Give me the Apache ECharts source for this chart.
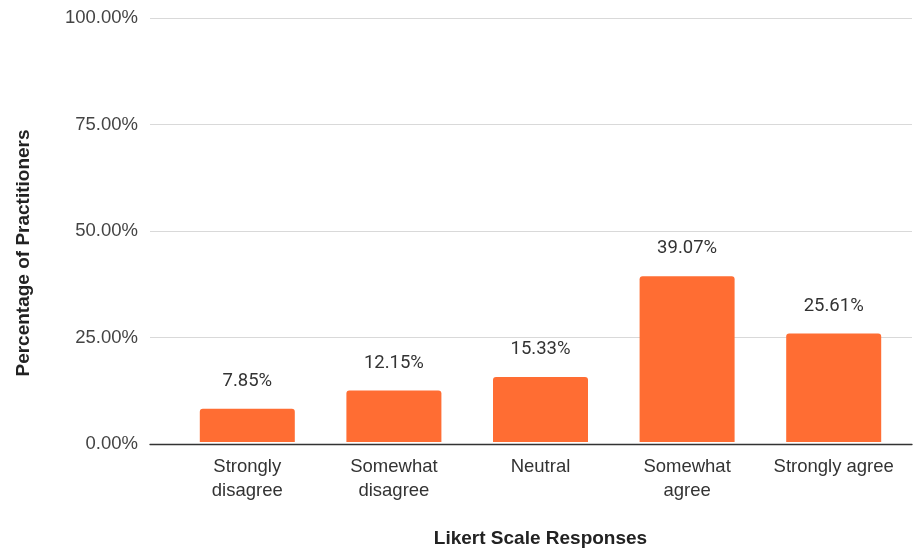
<!DOCTYPE html>
<html>
<head>
<meta charset="utf-8">
<script src="https://cdn.jsdelivr.net/npm/echarts@6/dist/echarts.min.js"></script>
<style>
  html, body { margin: 0; padding: 0; background: #fff; }
  #chart { width: 915px; height: 553px; }
</style>
</head>
<body>
<div id="chart"></div>
<script>
// Likert survey responses: share of practitioners per answer
const categories = ['Strongly\ndisagree', 'Somewhat\ndisagree', 'Neutral', 'Somewhat\nagree', 'Strongly agree'];
const percentages = [7.85, 12.15, 15.33, 39.07, 25.61];
const yTicks = [0, 25, 50, 75, 100];

const chart = echarts.init(document.getElementById('chart'));

const axisFont = 'Liberation Sans, Arial, sans-serif';

chart.setOption({
  animation: false,
  backgroundColor: '#ffffff',
  grid: [
    // frame grid: gridlines and baseline run across the full width
    { left: 150, right: 3, top: 18, bottom: 109 },
    // bar grid: category bands
    { left: 174, right: 8, top: 18, bottom: 109 }
  ],
  xAxis: [
    {
      gridIndex: 0, type: 'value', min: 0, max: 1, z: 5,
      axisLine: { show: true, onZero: true, lineStyle: { color: '#333', width: 1.3 } },
      axisTick: { show: false }, axisLabel: { show: false }, splitLine: { show: false }
    },
    {
      gridIndex: 1, type: 'category', data: categories,
      axisLine: { show: false }, axisTick: { show: false },
      axisLabel: {
        interval: 0, hideOverlap: false,
        color: '#333', fontFamily: axisFont, fontSize: 18.5, lineHeight: 24, margin: 13
      },
      name: 'Likert Scale Responses', nameLocation: 'middle', nameGap: 87,
      nameTextStyle: { fontFamily: axisFont, fontWeight: 'bold', fontSize: 19, color: '#222' }
    }
  ],
  yAxis: [
    {
      gridIndex: 0, type: 'value', min: yTicks[0], max: yTicks[yTicks.length - 1], interval: 25,
      axisLine: { show: false }, axisTick: { show: false },
      axisLabel: {
        color: '#444', fontFamily: axisFont, fontSize: 18.5, margin: 12,
        formatter: v => v.toFixed(2) + '%'
      },
      splitLine: { lineStyle: { color: '#d9d9d9', width: 1.2 } }
    },
    {
      gridIndex: 1, type: 'value', min: 0, max: 100,
      axisLine: { show: false }, axisTick: { show: false },
      axisLabel: { show: false }, splitLine: { show: false }
    }
  ],
  graphic: [{
    type: 'text',
    x: 24, y: 253, rotation: Math.PI / 2,
    style: {
      text: 'Percentage of Practitioners',
      fill: '#222', font: 'bold 19px ' + axisFont,
      align: 'center', verticalAlign: 'middle'
    }
  }],
  series: [{
    type: 'bar',
    xAxisIndex: 1, yAxisIndex: 1,
    data: percentages,
    barWidth: 95,
    itemStyle: { color: '#ff6d33', borderRadius: [3, 3, 0, 0] },
    label: {
      show: true, position: 'top', distance: 18,
      color: '#333', fontFamily: 'Roboto, sans-serif', fontSize: 18.5,
      formatter: p => p.value.toFixed(2) + '%'
    }
  }]
});
</script>
</body>
</html>
